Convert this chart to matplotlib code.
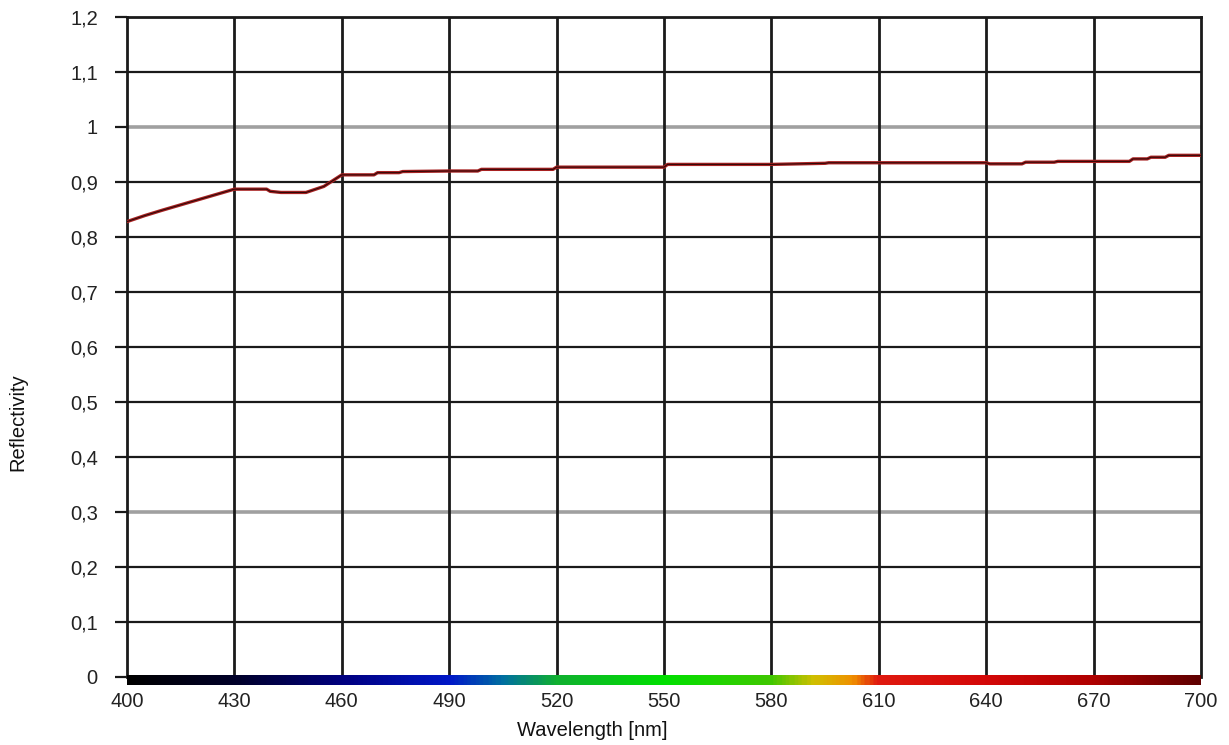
import numpy as np
import matplotlib
matplotlib.use("Agg")
import matplotlib.pyplot as plt
from matplotlib.colors import LinearSegmentedColormap

plt.rcParams['font.family'] = ['Liberation Sans', 'DejaVu Sans']

# measured reflectivity (stepped spectrum)
wavelength = [400, 405, 410, 420, 430, 439, 440, 443, 450, 455, 460, 469, 470, 476, 477,
              490, 498, 499, 519, 520, 550, 551, 580, 595, 596, 640, 641, 650, 651,
              659, 660, 680, 681, 685, 686, 690, 691, 700]
reflectivity = [0.828, 0.839, 0.849, 0.868, 0.887, 0.887, 0.883, 0.881, 0.881, 0.892, 0.913,
                0.913, 0.917, 0.917, 0.919, 0.920, 0.920, 0.923, 0.923, 0.927, 0.927, 0.932,
                0.932, 0.934, 0.935, 0.935, 0.933, 0.933, 0.936, 0.936, 0.9375, 0.9375,
                0.942, 0.942, 0.945, 0.945, 0.9485, 0.9485]

x_ticks = [400, 430, 460, 490, 520, 550, 580, 610, 640, 670, 700]
y_ticks = [0, 0.1, 0.2, 0.3, 0.4, 0.5, 0.6, 0.7, 0.8, 0.9, 1.0, 1.1, 1.2]
y_labels = ["0", "0,1", "0,2", "0,3", "0,4", "0,5", "0,6", "0,7", "0,8", "0,9", "1", "1,1", "1,2"]
grey_rows = [0.3, 1.0]

# colour strip along the wavelength axis
spec_nm = [400, 430, 460, 490, 505, 520, 550, 580, 592, 603, 610, 640, 670, 700]
spec_col = ["#000000", "#00002a", "#000080", "#0018c8", "#0070a0", "#10b030", "#00e000",
            "#40c800", "#d0c000", "#f09000", "#e01a10", "#d40808", "#b00000", "#600000"]

fig = plt.figure(figsize=(12.29, 7.45), dpi=100)
ax = fig.add_axes([127 / 1229, 1 - 677 / 745, (1201 - 127) / 1229, (677 - 17) / 745])

ax.set_xlim(400, 700)
ax.set_ylim(0, 1.2)

for y in y_ticks[1:-1]:
    if y in grey_rows:
        ax.axhline(y, color="#a0a0a0", lw=2.6, zorder=1)
    else:
        ax.axhline(y, color="#1a1a1a", lw=1.6, zorder=1)
for x in x_ticks[1:-1]:
    ax.axvline(x, color="#1a1a1a", lw=2.0, zorder=2)

ax.plot(wavelength, reflectivity, color="#a82222", lw=2.4, zorder=3)
ax.plot(wavelength, reflectivity, color="#300808", lw=0.8, zorder=4)

pos = [(n - 400) / 300 for n in spec_nm]
cmap = LinearSegmentedColormap.from_list("spec", list(zip(pos, spec_col)))
grad = np.linspace(0, 1, 600).reshape(1, -1)
ax.imshow(grad, cmap=cmap, aspect="auto", extent=(400, 700, -0.0145, 0.002),
          clip_on=False, zorder=5)

for side in ["top", "right", "left"]:
    ax.spines[side].set_color("#1a1a1a")
    ax.spines[side].set_linewidth(2.0)
ax.spines["bottom"].set_visible(False)

ax.set_xticks(x_ticks)
ax.set_xticklabels([str(v) for v in x_ticks])
ax.set_yticks(y_ticks)
ax.set_yticklabels(y_labels)
ax.tick_params(axis="y", length=9, width=1.6, color="#1a1a1a", pad=12,
               labelsize=14.5, labelcolor="#222222")
ax.tick_params(axis="x", length=0, pad=11, labelsize=14.5, labelcolor="#222222")

fig.text(592 / 1229, 1 - 730 / 745, "Wavelength [nm]", ha="center", va="center",
         fontsize=14.5, color="#111111")
fig.text(18 / 1229, 1 - 422 / 745, "Reflectivity", ha="center", va="center",
         rotation=90, fontsize=14.5, color="#111111")

fig.savefig("out.png", dpi=100)
